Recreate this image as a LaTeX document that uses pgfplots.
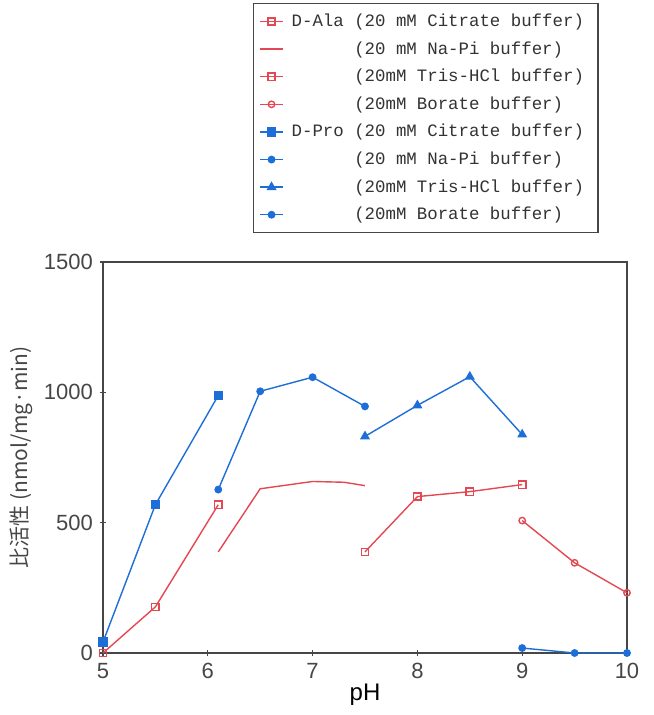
\documentclass[border=0pt]{standalone}
\usepackage{fontspec}
\setmainfont{Liberation Sans}
\newfontfamily\cjk{Noto Sans CJK JP}
\newfontfamily\mono{Liberation Mono}
\usepackage{pgfplots}
\pgfplotsset{compat=1.18}
\definecolor{cred}{RGB}{228,72,82}
\definecolor{cblue}{RGB}{30,110,215}
\definecolor{axgray}{RGB}{70,70,70}
\begin{document}
\begin{tikzpicture}
\begin{axis}[
  name=ax,
  width=262pt, height=195.5pt, scale only axis,
  xmin=5, xmax=10, ymin=0, ymax=1500,
  xtick={5,6,7,8,9,10}, ytick={0,500,1000,1500},
  tick pos=left,
  /pgf/number format/assume math mode=true,
  /pgf/number format/1000 sep={},
  tick label style={font=\fontsize{11}{12}\selectfont, text=axgray},
  tick align=center, major tick length=3pt,
  axis line style={axgray, line width=0.8pt},
  every tick/.style={axgray, line width=0.6pt},
  xlabel={\fontsize{12}{13}\selectfont pH},
  xlabel style={yshift=4pt},
  ylabel={\cjk\fontsize{10.5}{12}\selectfont 比活性 (nmol/mg·min)},
  ylabel style={yshift=-1pt, text=axgray},
  clip=false,
  legend cell align=left,
  legend style={at={(0.286,1.662)}, anchor=north west, draw=axgray, line width=0.6pt,
    font=\mono\fontsize{8.7}{10}\selectfont, text=black!80,
    inner xsep=3pt, inner ysep=2pt, row sep=0pt,
    nodes={inner ysep=2.4pt, inner xsep=4pt, text height=7pt, text depth=2pt}},
  legend image code/.code={\draw[mark repeat=2,mark phase=2,#1] plot coordinates {(0cm,0cm) (0.2cm,0cm) (0.4cm,0cm)};},
]
% D-Ala citrate
\addplot[cred, line width=0.7pt, mark=square, mark size=1.8pt] coordinates {(5,0) (5.5,177) (6.1,569)};
\addlegendentry{D-Ala (20 mM Citrate buffer)}
% D-Ala Na-Pi
\addplot[cred, line width=0.7pt, no marks] coordinates {(6.1,388) (6.5,630) (7,658) (7.3,655) (7.5,642)};
\addlegendentry{\phantom{D-Ala} (20 mM Na-Pi buffer)}
% D-Ala Tris
\addplot[cred, line width=0.7pt, mark=square, mark size=1.8pt] coordinates {(7.5,388) (8,600) (8.5,619) (9,646)};
\addlegendentry{\phantom{D-Ala} (20mM Tris-HCl buffer)}
% D-Ala Borate
\addplot[cred, line width=0.7pt, mark=o, mark size=1.6pt] coordinates {(9,508) (9.5,346) (10,231)};
\addlegendentry{\phantom{D-Ala} (20mM Borate buffer)}
% D-Pro citrate
\addplot[cblue, line width=0.7pt, mark=square*, mark size=2pt] coordinates {(5,42) (5.5,569) (6.1,988)};
\addlegendentry{D-Pro (20 mM Citrate buffer)}
% D-Pro Na-Pi
\addplot[cblue, line width=0.7pt, mark=*, mark size=1.6pt] coordinates {(6.1,627) (6.5,1004) (7,1058) (7.5,946)};
\addlegendentry{\phantom{D-Pro} (20 mM Na-Pi buffer)}
% D-Pro Tris
\addplot[cblue, line width=0.7pt, mark=triangle*, mark size=2.2pt] coordinates {(7.5,831) (8,950) (8.5,1060) (9,838)};
\addlegendentry{\phantom{D-Pro} (20mM Tris-HCl buffer)}
% D-Pro Borate
\addplot[cblue, line width=0.7pt, mark=*, mark size=1.6pt] coordinates {(9,19) (9.5,0) (10,0)};
\addlegendentry{\phantom{D-Pro} (20mM Borate buffer)}
\end{axis}
\pgfresetboundingbox
\useasboundingbox ([shift={(-51.5pt,-31pt)}]ax.south west) rectangle ([shift={(-51.5pt,-31pt)}]ax.south west) ++(326.5pt,357.5pt);
\end{tikzpicture}
\end{document}
